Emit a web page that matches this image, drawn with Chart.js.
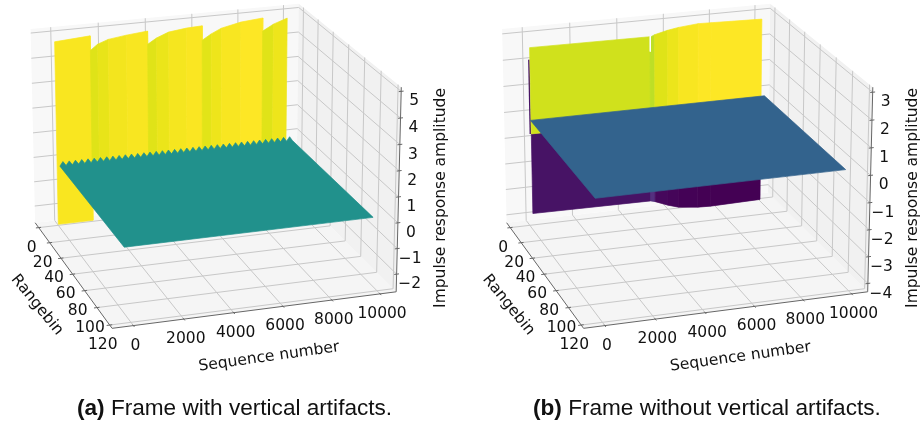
<!DOCTYPE html>
<html>
<head>
<meta charset="utf-8">
<style>
  body { margin: 0; background: #fff; }
  #page { position: relative; width: 924px; height: 423px; overflow: hidden; }
  canvas { position: absolute; top: 0; }
  .caption { position: absolute; top: 395px; font: 22.6px/1.15 "Liberation Sans", sans-serif; color: #111; white-space: nowrap; }
</style>
<script src="https://cdn.jsdelivr.net/npm/chart.js@4"></script>
</head>
<body>
<div id="page">
  <canvas id="left" width="462" height="423" style="left:0"></canvas>
  <canvas id="right" width="462" height="423" style="left:462px"></canvas>
  <div class="caption" style="left:77px"><b>(a)</b> Frame with vertical artifacts.</div>
  <div class="caption" style="left:533px"><b>(b)</b> Frame without vertical artifacts.</div>
</div>
<script>
// tick labels
const rangeTicks = [0, 20, 40, 60, 80, 100, 120];
const seqTicks = [0, 2000, 4000, 6000, 8000, 10000];
const ampTicksA = [5, 4, 3, 2, 1, 0, -1, -2];
const ampTicksB = [3, 2, 1, 0, -1, -2, -3, -4];

// frame (a): wall at rangebin 0
const wallSeqA = [0, 1490, 1490, 1800, 2250, 3020, 3920, 3920, 4300, 4820, 5590, 6260, 6260, 6650, 7090, 7940, 8890, 8890, 9360, 9960];
const wallTopA = [4.74, 4.84, 4.26, 4.48, 4.63, 4.73, 4.81, 4.28, 4.5, 4.69, 4.78, 4.81, 4.23, 4.45, 4.64, 4.81, 4.89, 4.36, 4.6, 4.79];
const wallBottomA = [-2.65, -2.65, -1.5, -1.5, -1.5, -1.5, -1.5, -1.5, -1.5, -1.5, -1.5, -1.5, -1.5, -1.5, -1.5, -1.5, -1.5, -1.5, -1.5, -1.5];
const wallColorsA = ['#f9e620', '#f9e620', '#dfe318', '#e8e419', '#f3e51e', '#f8e621', '#f8e621', '#e0e318', '#ebe51a', '#f5e61f', '#fae622', '#fae622', '#e2e418', '#eee51b', '#f8e621', '#fde725', '#fde725', '#e0e318', '#eee51b', '#f5e61f'];

// frame (a): flat plane, with the toothed back edge
const planeAmpA = 0.2;
const toothAmpA = 0.37;
const planeSeqA = [-230, 9770];
const planeRange = [15, 120];
const toothSeq = [-230, -100, 30, 165, 295, 425, 560, 690, 820, 955, 1085, 1215, 1350, 1480, 1610, 1745, 1875, 2005, 2140, 2270, 2400, 2535, 2665, 2795, 2930, 3060, 3190, 3325, 3455, 3585, 3720, 3850, 3980, 4115, 4245, 4375, 4510, 4640, 4770, 4905, 5035, 5165, 5300, 5430, 5560, 5695, 5825, 5955, 6090, 6220, 6350, 6485, 6615, 6745, 6880, 7010, 7140, 7275, 7405, 7535, 7670, 7800, 7930, 8065, 8195, 8325, 8460, 8590, 8720, 8855, 8985, 9115, 9250, 9380, 9510, 9645, 9770];

// frame (b): wall at rangebin 0
const wallSeqB = [140, 5240, 5240, 5440, 6000, 6470, 7320, 7880, 10100];
const wallTopB = [2.55, 2.52, 2.5, 2.58, 2.7, 2.77, 2.84, 2.83, 2.78];
const wallSplitB = -0.75;
const wallBottomB = [-3.86, -3.9, -3.9, -3.95, -4.15, -4.28, -4.37, -4.39, -4.35];
const upperColorsB = ['#d0e11c', '#d0e11c', '#bddf26', '#dfe318', '#ece51b', '#f8e621', '#fde725', '#fde725', '#fde725'];
const lowerColorsB = ['#471365', '#471365', '#54307f', '#46085c', '#450559', '#440256', '#440154', '#440154', '#440154'];

// frame (b): flat plane
const planeAmpB = 0.2;
const planeSeqB = [-230, 9770];

// box limits
const rangeLim = [-6.6, 123.7];
const seqLim = [-838, 10672];
const ampLimA = [-2.693, 5.156];
const ampLimB = [-4.313, 3.18];

// mplot3d style camera
const elev = 20 * Math.PI / 180;
const azim = -18 * Math.PI / 180;
const camDist = 9.5;
const camScale = 290;
const camDepth = 0.73;

function makeProject(cx, cy, ampLim) {
  const se = Math.sin(elev), ce = Math.cos(elev), sa = Math.sin(azim), ca = Math.cos(azim);
  return function (r, s, z) {
    const X = (r - rangeLim[0]) / (rangeLim[1] - rangeLim[0]) - 0.5;
    const Y = (s - seqLim[0]) / (seqLim[1] - seqLim[0]) - 0.5;
    const Z = ((z - ampLim[0]) / (ampLim[1] - ampLim[0]) - 0.5) * camDepth;
    const right = -sa * X + ca * Y;
    const up = -se * ca * X - se * sa * Y + ce * Z;
    const front = ce * ca * X + ce * sa * Y + se * Z;
    const k = camScale / (1 - front / camDist);
    return { x: cx + right * k, y: cy - up * k };
  };
}

// fills datasets that carry a polygon colour, from the points the scales placed
const polygonPlugin = {
  id: 'polygons',
  afterDatasetDraw(chart, args) {
    const ds = chart.data.datasets[args.index];
    if (!ds.polygon) return;
    const pts = args.meta.data;
    const ctx = chart.ctx;
    ctx.save();
    ctx.beginPath();
    pts.forEach((p, i) => i ? ctx.lineTo(p.x, p.y) : ctx.moveTo(p.x, p.y));
    ctx.closePath();
    ctx.fillStyle = ds.polygon;
    ctx.fill();
    if (ds.seal) {
      ctx.strokeStyle = ds.polygon;
      ctx.lineWidth = 0.7;
      ctx.stroke();
    }
    ctx.restore();
  }
};

const textPlugin = {
  id: 'labels3d',
  afterDraw(chart) {
    const ctx = chart.ctx;
    ctx.save();
    ctx.fillStyle = '#111111';
    ctx.textAlign = 'center';
    ctx.textBaseline = 'middle';
    chart.options.plugins.labels3d.items.forEach(t => {
      ctx.save();
      ctx.translate(t.x, t.y);
      ctx.rotate((t.rot || 0) * Math.PI / 180);
      ctx.font = t.size + 'px "DejaVu Sans"';
      ctx.fillText(t.text, 0, 0);
      ctx.restore();
    });
    ctx.restore();
  }
};

function drawPanel(id, cx, xShift, ampLim, ampTicks, addMarks) {
  const project = makeProject(cx, 158, ampLim);
  const datasets = [];
  let order = 2000;
  const add = (pts, style) => datasets.push(Object.assign({ data: pts, pointRadius: 0, order: order-- }, style));
  const line = (pts, color, width) => add(pts, { showLine: true, borderColor: color, borderWidth: width });
  const poly = (pts, color, seal) => add(pts, { showLine: false, polygon: color, seal: seal });

  const [r0, r1] = rangeLim, [s0, s1] = seqLim, [z0, z1] = ampLim;

  // panes
  poly([project(r0, s0, z0), project(r1, s0, z0), project(r1, s1, z0), project(r0, s1, z0)], '#f5f5f5');
  poly([project(r0, s0, z0), project(r0, s1, z0), project(r0, s1, z1), project(r0, s0, z1)], '#f8f8f8');
  poly([project(r0, s1, z0), project(r1, s1, z0), project(r1, s1, z1), project(r0, s1, z1)], '#f1f1f1');

  // grid
  const grid = '#c8c8c8';
  rangeTicks.forEach(r => line([project(r, s0, z0), project(r, s1, z0), project(r, s1, z1)], grid, 1));
  seqTicks.forEach(s => line([project(r1, s, z0), project(r0, s, z0), project(r0, s, z1)], grid, 1));
  ampTicks.forEach(z => line([project(r0, s0, z), project(r0, s1, z), project(r1, s1, z)], grid, 1));

  addMarks(project, line, poly);

  // axis lines and ticks
  const axis = '#666666';
  line([project(r0, s0, z0), project(r1, s0, z0), project(r1, s1, z0), project(r1, s1, z1)], axis, 1);
  rangeTicks.forEach(r => line([project(r, s0 + 100, z0), project(r, s0 - 120, z0)], axis, 1));
  seqTicks.forEach(s => line([project(r1 - 1, s, z0), project(r1 + 1.5, s, z0)], axis, 1));
  ampTicks.forEach(z => line([project(r1, s1 - 100, z), project(r1, s1 + 100, z)], axis, 1));

  const items = [];
  const label = (p, dx, dy, text, size, rot) => items.push({ x: p.x + dx, y: p.y + dy, text, size, rot });
  rangeTicks.forEach(r => label(project(r, s0, z0), -7, 20, String(r), 15.5));
  seqTicks.forEach(s => label(project(r1, s, z0), 2, 20, String(s), 15.5));
  ampTicks.forEach(z => label(project(r1, s1, z), 13, 10, String(z).replace('-', '\u2212'), 15.5));
  items.push({ x: 37 + xShift, y: 305, text: 'Rangebin', size: 15.5, rot: 51 });
  items.push({ x: 269 + xShift, y: 357, text: 'Sequence number', size: 15.5, rot: -8 });
  items.push({ x: 439 + xShift + 2, y: 198, text: 'Impulse response amplitude', size: 15.5, rot: -90 });

  new Chart(document.getElementById(id), {
    type: 'scatter',
    data: { datasets },
    plugins: [polygonPlugin, textPlugin],
    options: {
      responsive: false,
      animation: false,
      events: [],
      layout: { padding: 0 },
      elements: { line: { tension: 0 } },
      datasets: { scatter: { clip: false } },
      plugins: { legend: { display: false }, tooltip: { enabled: false }, labels3d: { items } },
      scales: {
        x: { type: 'linear', display: false, min: 0, max: 462 },
        y: { type: 'linear', display: false, min: 0, max: 423, reverse: true }
      }
    }
  });
}

drawPanel('left', 210, 0, ampLimA, ampTicksA, (project, line, poly) => {
  wallSeqA.slice(1).forEach((s, i) => {
    poly([project(0, wallSeqA[i], wallTopA[i]), project(0, s, wallTopA[i + 1]), project(0, s, wallBottomA[i + 1]), project(0, wallSeqA[i], wallBottomA[i])], wallColorsA[i], true);
  });
  const edge = toothSeq.map((s, i) => project(planeRange[0], s, i % 2 ? toothAmpA : planeAmpA)).reverse();
  poly([project(planeRange[1], planeSeqA[0], planeAmpA), project(planeRange[1], planeSeqA[1], planeAmpA)].concat(edge), '#21918c', true);
});

drawPanel('right', 219.5, 9.5, ampLimB, ampTicksB, (project, line, poly) => {
  wallSeqB.slice(1).forEach((s, i) => {
    poly([project(0, wallSeqB[i], wallSplitB), project(0, s, wallSplitB), project(0, s, wallBottomB[i + 1]), project(0, wallSeqB[i], wallBottomB[i])], lowerColorsB[i], true);
  });
  line([project(0, 100, 2.1), project(0, 100, wallSplitB)], '#471365', 1.5);
  wallSeqB.slice(1).forEach((s, i) => {
    poly([project(0, wallSeqB[i], wallTopB[i]), project(0, s, wallTopB[i + 1]), project(0, s, wallSplitB), project(0, wallSeqB[i], wallSplitB)], upperColorsB[i], true);
  });
  line([project(0, 5250, 2.55), project(0, 5250, 1.95)], '#ffffff', 1);
  poly([project(planeRange[1], planeSeqB[0], planeAmpB), project(planeRange[1], planeSeqB[1], planeAmpB), project(planeRange[0], planeSeqB[1], planeAmpB), project(planeRange[0], planeSeqB[0], planeAmpB)], '#33638d', true);
});
</script>
</body>
</html>
